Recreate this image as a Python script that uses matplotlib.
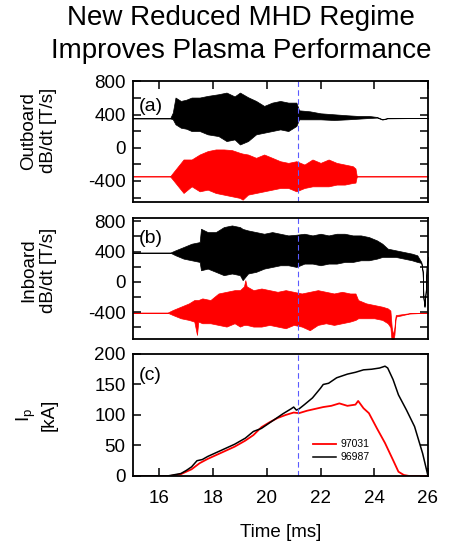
import numpy as np
import matplotlib as mpl
mpl.use('Agg')
from matplotlib import pyplot as plt
from matplotlib.ticker import MultipleLocator

plt.rcParams['font.family'] = ['Liberation Sans', 'DejaVu Sans']
plt.rcParams['axes.unicode_minus'] = False

# (a) outboard dB/dt, envelope of the fluctuations
t_a_black = [15.0, 16.4, 16.5, 16.6, 16.8, 17.0, 17.2, 17.5, 17.8, 18.2, 18.5, 18.8, 19.0, 19.3,
             19.6, 19.9, 20.2, 20.5, 20.8, 21.1, 21.2, 21.6, 22.0, 22.5, 23.0, 23.4, 23.8, 24.1,
             24.3, 24.5, 26.0]
a_black_hi = [355, 355, 424, 606, 565, 580, 606, 606, 626, 646, 666, 620, 666, 610,
              565, 505, 545, 565, 545, 545, 452, 440, 416, 404, 392, 384, 384, 372,
              345, 360, 360]
a_black_lo = [355, 355, 343, 283, 242, 230, 202, 202, 162, 141, 81, 101, 40, 81,
              162, 182, 202, 222, 202, 263, 343, 343, 343, 335, 343, 351, 359, 364,
              340, 355, 360]

t_a_red = [15.0, 16.4, 16.5, 16.7, 16.9, 17.2, 17.5, 17.8, 18.1, 18.4, 18.7, 19.0, 19.1, 19.3,
           19.6, 19.9, 20.2, 20.5, 20.8, 21.1, 21.4, 21.7, 22.0, 22.3, 22.6, 22.9, 23.2, 23.3,
           23.35, 26.0]
a_red_hi = [-345, -345, -303, -222, -141, -141, -81, -40, -20, -20, -28, -61, -70, -81,
            -121, -81, -121, -162, -182, -162, -202, -141, -182, -141, -182, -202, -222, -250,
            -345, -345]
a_red_lo = [-345, -345, -384, -465, -545, -465, -525, -505, -545, -565, -585, -605, -626, -565,
            -545, -525, -505, -485, -485, -525, -485, -465, -465, -465, -444, -444, -424, -420,
            -345, -345]

# (b) inboard dB/dt
t_b_black = [15.0, 16.4, 16.6, 16.9, 17.2, 17.5, 17.55, 17.8, 18.1, 18.4, 18.7, 19.0, 19.1, 19.3,
             19.6, 19.9, 20.2, 20.5, 20.8, 21.1, 21.4, 21.7, 22.0, 22.3, 22.6, 22.9, 23.2, 23.5,
             23.8, 24.1, 24.3, 24.5, 24.8, 25.1, 25.4, 25.6, 25.75, 25.8, 25.83, 25.87, 25.92,
             25.95, 26.0]
b_black_hi = [386, 386, 417, 460, 504, 526, 702, 658, 658, 724, 746, 724, 700, 680,
              658, 636, 658, 636, 614, 623, 636, 614, 636, 614, 636, 636, 614, 614,
              592, 548, 504, 439, 417, 395, 373, 351, 263, 150, -200, -330, -100,
              200, 330]
b_black_lo = [386, 386, 351, 307, 285, 263, 153, 175, 132, 88, 110, 88, 22, 110,
              132, 175, 197, 219, 219, 197, 241, 241, 219, 241, 241, 263, 263, 285,
              285, 307, 329, 329, 329, 307, 285, 263, 250, 130, -220, -330, -100,
              200, 330]

t_b_red = [15.0, 16.3, 16.5, 16.8, 17.1, 17.3, 17.4, 17.45, 17.6, 17.9, 18.2, 18.5, 18.8, 19.0,
           19.15, 19.2, 19.25, 19.5, 19.8, 20.1, 20.4, 20.7, 21.0, 21.3, 21.6, 21.9, 22.2, 22.5,
           22.8, 23.1, 23.3, 23.4, 23.7, 24.0, 24.3, 24.5, 24.6, 24.65, 24.7, 24.75, 24.8, 25.0,
           25.3, 26.0]
b_red_hi = [-408, -408, -373, -329, -285, -241, -241, -241, -219, -241, -154, -132, -110, -110,
            -60, 22, -60, -110, -88, -110, -132, -110, -132, -154, -132, -110, -132, -154,
            -132, -154, -154, -241, -285, -307, -329, -351, -380, -600, -700, -600, -440, -430,
            -415, -408]
b_red_lo = [-408, -408, -439, -482, -504, -526, -702, -526, -548, -548, -570, -592, -548, -592,
            -570, -570, -570, -592, -592, -570, -592, -614, -570, -592, -640, -570, -548, -570,
            -548, -526, -504, -482, -482, -482, -504, -548, -600, -800, -800, -700, -460, -445,
            -420, -408]

# (c) plasma current
t_ip_97031 = [15.0, 16.4, 16.8, 17.0, 17.2, 17.5, 17.8, 18.0, 18.4, 18.8, 19.2, 19.5, 19.8,
              20.1, 20.4, 20.7, 21.0, 21.2, 21.5, 21.8, 22.1, 22.4, 22.7, 23.0, 23.3, 23.4,
              23.6, 23.8, 24.1, 24.4, 24.7, 24.9, 25.1, 25.3, 26.0]
ip_97031 = [0, 0, 3, 7, 11, 21, 28, 32, 40, 48, 58, 67, 80,
            88, 95, 100, 104, 103, 107, 110, 113, 115, 119, 115, 117, 123,
            111, 103, 78, 54, 26, 7, 1.6, 0, 0]
t_ip_96987 = [15.0, 16.3, 16.5, 16.8, 17.0, 17.2, 17.4, 17.6, 17.8, 18.0, 18.4, 18.8, 19.2,
              19.5, 19.8, 20.0, 20.3, 20.6, 20.9, 21.0, 21.1, 21.2, 21.4, 21.7, 22.0, 22.1,
              22.3, 22.6, 23.0, 23.3, 23.6, 23.9, 24.2, 24.4, 24.5, 24.7, 24.9, 25.2, 25.5,
              25.8, 26.0]
ip_96987 = [0, 0, 1.6, 4, 9, 15, 25, 27, 32, 36, 44, 52, 62,
            73, 78, 84, 93, 102, 110, 113, 108, 110, 117, 128, 144, 150,
            152, 161, 167, 170, 174, 175, 177, 180, 177, 158, 133, 108, 81,
            37, 0]

t_mark = 21.15
blue = '#5b5bff'

fig = plt.figure(figsize=(4.62, 5.42), dpi=100)
left, width = 0.2868, 0.6396
ax1 = fig.add_axes([left, 0.6279, width, 0.2218])
ax2 = fig.add_axes([left, 0.3740, width, 0.2232])
ax3 = fig.add_axes([left, 0.1218, width, 0.2251])

ax1.fill_between(t_a_black, a_black_lo, a_black_hi, color='black', lw=0.5)
ax1.fill_between(t_a_red, a_red_lo, a_red_hi, color='red', lw=0.5)
ax2.fill_between(t_b_black, b_black_lo, b_black_hi, color='black', lw=0.5)
ax2.fill_between(t_b_red, b_red_lo, b_red_hi, color='red', lw=0.5)
ax3.plot(t_ip_97031, ip_97031, color='red', lw=1.3, label='97031')
ax3.plot(t_ip_96987, ip_96987, color='black', lw=1.1, label='96987')

for ax in (ax1, ax2, ax3):
    ax.axvline(t_mark, color=blue, lw=0.8, dashes=(5, 3))
    ax.set_xlim(15, 26)
    for s in ax.spines.values():
        s.set_linewidth(1.3)
    ax.tick_params(which='both', direction='in', length=6, width=1.1, labelsize=13.5,
                   right=True, pad=5)

ax1.set_ylim(-650, 800)
ax2.set_ylim(-760, 840)
ax3.set_ylim(0, 200)
for ax in (ax1, ax2):
    ax.yaxis.set_major_locator(MultipleLocator(400))
    ax.yaxis.set_minor_locator(MultipleLocator(200))
    ax.xaxis.set_major_locator(MultipleLocator(2))
    ax.tick_params(axis='x', labelbottom=False, bottom=False)
ax1.tick_params(axis='x', top=True)
ax3.yaxis.set_major_locator(MultipleLocator(50))
ax3.xaxis.set_major_locator(MultipleLocator(2))
ax3.tick_params(axis='x', pad=10)

ax1.set_ylabel('Outboard\ndB/dt [T/s]', fontsize=13.5, linespacing=1.2)
ax1.yaxis.set_label_coords(-0.255, 0.59)
ax2.set_ylabel('Inboard\ndB/dt [T/s]', fontsize=13.5, linespacing=1.2)
ax2.yaxis.set_label_coords(-0.255, 0.57)
ax3.set_ylabel('I$_\\mathregular{p}$\n[kA]', fontsize=13.5, linespacing=1.2)
ax3.yaxis.set_label_coords(-0.255, 0.5)
ax3.set_xlabel('Time [ms]', fontsize=13.5, labelpad=12)

ax1.text(0.02, 0.79, '(a)', transform=ax1.transAxes, fontsize=14, va='center')
ax2.text(0.02, 0.83, '(b)', transform=ax2.transAxes, fontsize=14, va='center')
ax3.text(0.02, 0.82, '(c)', transform=ax3.transAxes, fontsize=14, va='center')

ax3.legend(loc='upper left', bbox_to_anchor=(0.585, 0.36), frameon=False, fontsize=7.5,
           handlelength=2.2, handletextpad=0.5, labelspacing=0.3, borderpad=0.2)

fig.text(0.522, 1 - 25 / 542, 'New Reduced MHD Regime', ha='center', va='baseline', fontsize=20)
fig.text(0.522, 1 - 58 / 542, 'Improves Plasma Performance', ha='center', va='baseline', fontsize=20)

fig.savefig('out.png', dpi=100)
